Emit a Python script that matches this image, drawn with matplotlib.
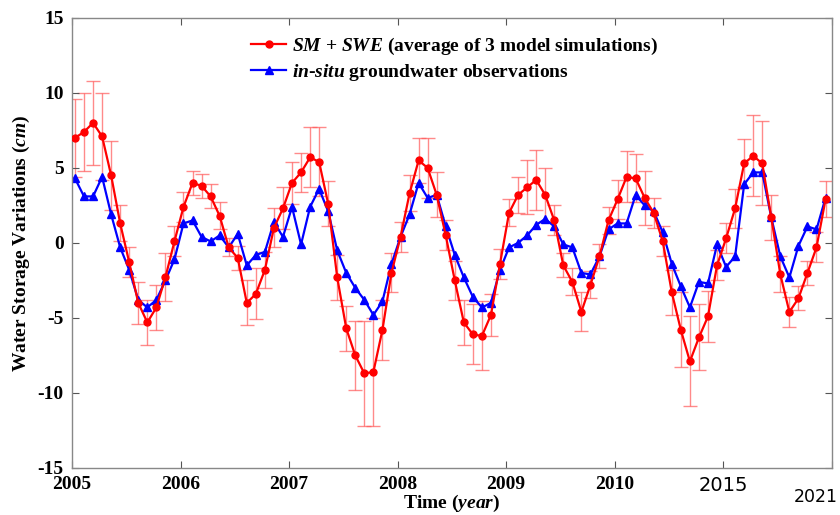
import numpy as np
import matplotlib
matplotlib.use("Agg")
import matplotlib.pyplot as plt

plt.rcParams['font.family'] = 'Liberation Serif'
plt.rcParams['font.weight'] = 'bold'
plt.rcParams['axes.labelweight'] = 'bold'
plt.rcParams['axes.unicode_minus'] = False
plt.rcParams['mathtext.fontset'] = 'custom'
plt.rcParams['mathtext.rm'] = 'Liberation Serif:bold'
plt.rcParams['mathtext.it'] = 'Liberation Serif:italic:bold'

# monthly values, Jan 2005 .. Dec 2011 (84 months)
sm_swe = [7.0, 7.4, 8.0, 7.1, 4.5, 1.3, -1.3, -4.0, -5.3, -4.3, -2.3, 0.1,
          2.4, 4.0, 3.8, 3.1, 1.8, -0.3, -1.0, -4.0, -3.4, -1.8, 1.0, 2.3,
          4.0, 4.7, 5.7, 5.4, 2.6, -2.3, -5.7, -7.5, -8.7, -8.6, -5.8, -2.0,
          0.4, 3.3, 5.5, 5.0, 3.2, 0.5, -2.5, -5.3, -6.1, -6.2, -4.8, -1.4,
          2.0, 3.2, 3.7, 4.2, 3.2, 1.5, -1.5, -2.6, -4.6, -2.8, -0.9, 1.5,
          2.9, 4.4, 4.3, 3.0, 2.0, 0.1, -3.3, -5.8, -7.9, -6.3, -4.9, -1.5,
          0.3, 2.3, 5.3, 5.8, 5.3, 1.7, -2.1, -4.6, -3.7, -2.0, -0.3, 2.9]
sm_swe_err = [2.6, 2.6, 2.8, 2.9, 2.3, 1.2, 1.0, 1.4, 1.5, 1.5, 1.6, 1.0,
              1.0, 0.8, 0.8, 0.8, 0.9, 0.6, 0.8, 1.5, 1.7, 1.2, 1.3, 1.4,
              1.4, 1.3, 2.0, 2.3, 1.5, 1.5, 1.5, 2.3, 3.5, 3.6, 2.0, 1.3,
              1.0, 1.2, 1.5, 2.0, 1.5, 1.0, 1.3, 1.5, 2.0, 2.3, 1.4, 1.0,
              0.9, 1.2, 1.8, 2.0, 1.8, 1.0, 0.8, 0.9, 1.3, 0.9, 0.8, 0.9,
              1.3, 1.7, 1.6, 1.8, 1.0, 1.0, 1.5, 2.5, 3.0, 2.2, 1.7, 1.0,
              1.0, 1.3, 1.6, 2.7, 2.8, 1.5, 1.2, 1.0, 0.8, 0.8, 1.0, 1.2]
insitu = [4.3, 3.1, 3.1, 4.4, 1.9, -0.3, -1.8, -3.8, -4.3, -3.8, -2.5, -1.1,
          1.3, 1.5, 0.4, 0.1, 0.5, -0.3, 0.6, -1.5, -0.8, -0.6, 1.4, 0.4,
          2.4, -0.1, 2.4, 3.6, 2.1, -0.5, -2.0, -3.0, -3.8, -4.8, -3.9, -1.4,
          0.4, 1.9, 4.0, 3.0, 3.2, 1.1, -0.8, -2.3, -3.6, -4.3, -4.0, -1.8,
          -0.3, 0.0, 0.5, 1.2, 1.6, 1.1, -0.1, -0.3, -2.0, -2.1, -0.9, 0.9,
          1.3, 1.3, 3.2, 2.5, 2.1, 0.7, -1.4, -2.9, -4.3, -2.6, -2.7, -0.1,
          -1.6, -0.9, 3.9, 4.7, 4.7, 1.7, -0.9, -2.3, -0.2, 1.1, 0.9, 3.0]

tick_years = [2005, 2006, 2007, 2008, 2009, 2010, 2011, 2012]
tick_labels = ['2005', '2006', '2007', '2008', '2009', '2010', '2015', '']

months = np.arange(len(sm_swe))
t = 2005 + (months + 0.33) / 12.0

fig = plt.figure(figsize=(8.4, 5.15), dpi=100)
ax = fig.add_axes([0.0857, 0.0913, 0.9043, 0.874])

ax.errorbar(t, sm_swe, yerr=sm_swe_err, fmt='none', ecolor=(1.0, 0.35, 0.35, 0.7),
            elinewidth=1.0, capsize=5, capthick=1.0, zorder=1)
ax.plot(t, sm_swe, color='#ff0000', marker='o', markersize=5, linewidth=1.6,
        label=r'$\mathit{SM}$ + $\mathit{SWE}$ (average of 3 model simulations)', zorder=3)
ax.plot(t, insitu, color='#0000ff', marker='^', markersize=6, linewidth=1.6,
        label=r'$\mathit{in}$-$\mathit{situ}$ groundwater observations', zorder=2)

ax.set_xlim(2005, 2012)
ax.set_ylim(-15, 15)
ax.set_yticks([-15, -10, -5, 0, 5, 10, 15])
ax.set_xticks(tick_years)
ax.set_xticklabels(tick_labels)
for lab in ax.get_xticklabels():
    if lab.get_text() == '2015':
        lab.set_fontfamily('DejaVu Sans')
        lab.set_fontweight('normal')
        lab.set_fontsize(12.5)
ax.text(1.008, -0.045, '2021', transform=ax.transAxes, ha='right', va='top',
        fontfamily='DejaVu Sans', fontweight='normal', fontsize=12.5)

ax.tick_params(direction='in', top=True, right=True, labelsize=14, length=5,
               color='#555555', pad=6)
for sp in ax.spines.values():
    sp.set_color('#888888')
    sp.set_linewidth(1.0)

ax.set_xlabel(r'Time ($\mathit{year}$)', fontsize=14, labelpad=-2)
ax.set_ylabel(r'Water Storage Variations ($\mathit{cm}$)', fontsize=14, labelpad=4)

ax.legend(loc='upper left', bbox_to_anchor=(0.218, 0.99), frameon=False,
          fontsize=14, handlelength=1.8, handletextpad=0.3, labelspacing=0.25,
          borderaxespad=0.3)

fig.savefig('out.png', dpi=100)
